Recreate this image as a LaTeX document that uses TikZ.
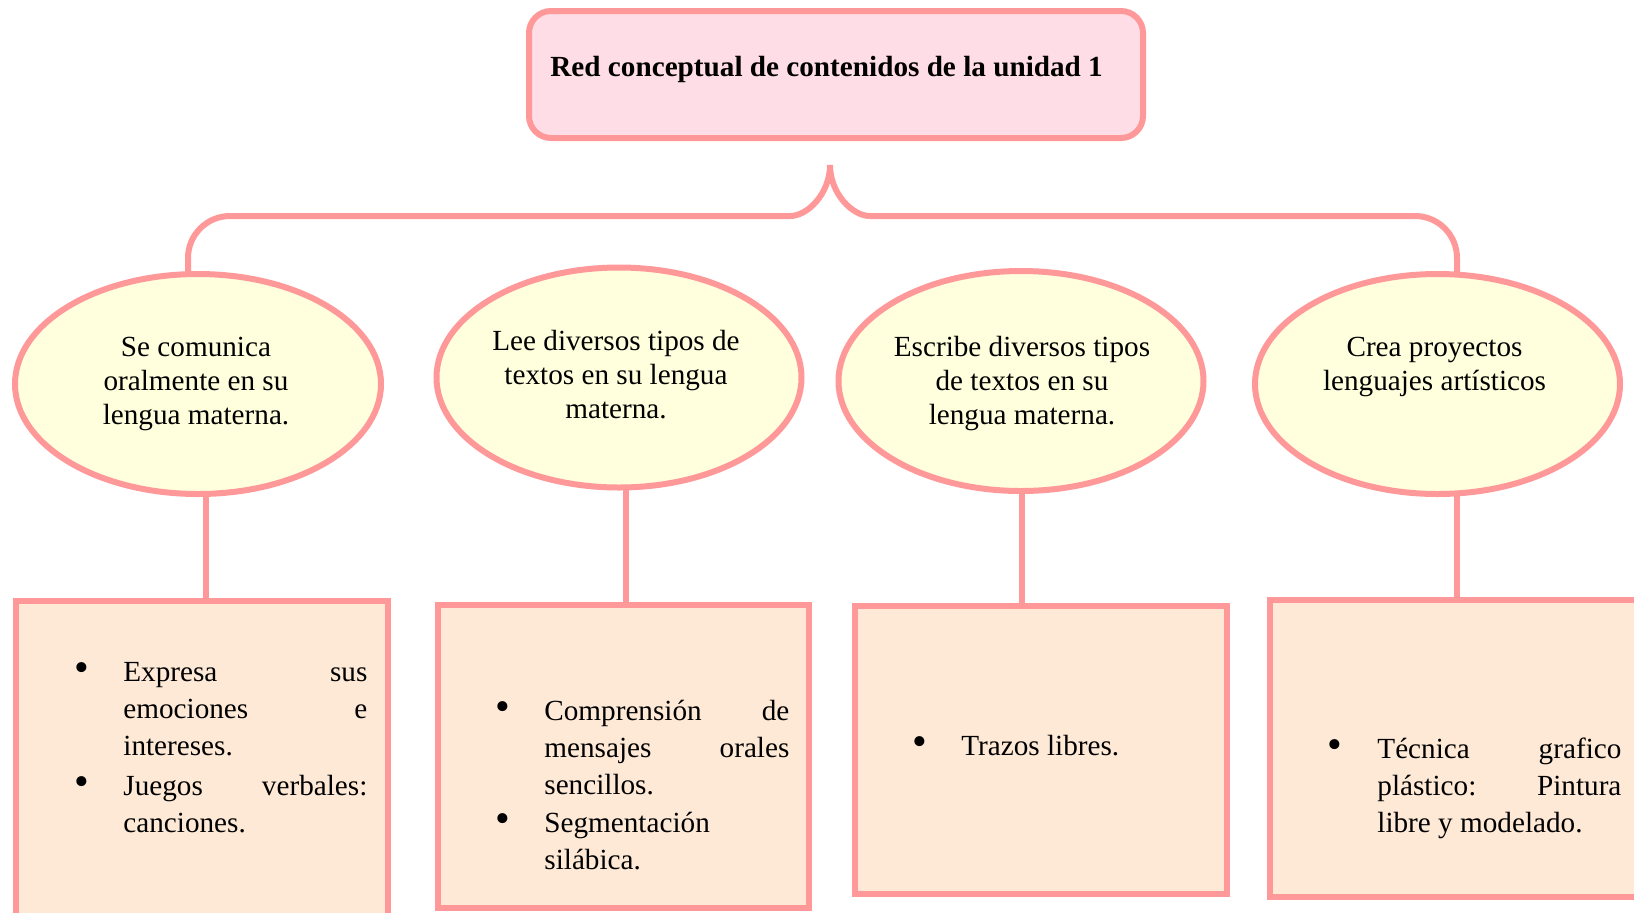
\documentclass[tikz,border=0pt]{standalone}
\usepackage{fontspec}
\setmainfont{Liberation Serif}
\usetikzlibrary{calc,shapes.geometric}
\definecolor{pk}{HTML}{FF9999}
\definecolor{titlefill}{HTML}{FFDDE6}
\definecolor{ellfill}{HTML}{FFFFDD}
\definecolor{boxfill}{HTML}{FDE9D6}
\begin{document}
\begin{tikzpicture}[x=0.5pt,y=-0.5pt,
  shapeline/.style={draw=pk, line width=3pt, outer sep=0pt},
  titlebox/.style={shapeline, fill=titlefill, rounded corners=11pt, inner sep=0pt},
  ell/.style={shapeline, fill=ellfill, ellipse, inner sep=0pt},
  cbox/.style={shapeline, fill=boxfill, inner sep=0pt},
  conn/.style={draw=pk, line width=3pt},
  etext/.style={anchor=base, inner sep=0pt, font=\fontsize{14.6}{17}\selectfont},
  itext/.style={anchor=base west, inner sep=0pt, font=\fontsize{14.6}{18.5}\selectfont},
  bultext/.style={anchor=base, inner sep=0pt, font=\fontsize{21}{21}\selectfont},
]
\useasboundingbox (0,0) rectangle (1634,912);
\clip (0,0) rectangle (1634,912);

% title
\node[titlebox, minimum width=307pt, minimum height=63.5pt] (title) at (836,74.5) {};
\node[anchor=base west, inner sep=0pt, font=\fontsize{14.6}{17}\selectfont\bfseries] (ttl) at (550,76) {Red conceptual de contenidos de la unidad 1};

% ellipses
\node[ell, minimum width=183pt, minimum height=110pt] (e1) at (198,384) {};
\node[ell, minimum width=182.5pt, minimum height=110pt] (e2) at (619,377.5) {};
\node[ell, minimum width=182.5pt, minimum height=110pt] (e3) at (1021,381) {};
\node[ell, minimum width=182.5pt, minimum height=110pt] (e4) at (1437.5,384) {};

% boxes
\node[cbox, minimum width=185.75pt, minimum height=175pt] (b1) at (202,776) {};
\node[cbox, minimum width=185.5pt, minimum height=151.5pt] (b2) at (623.5,756.5) {};
\node[cbox, minimum width=186pt, minimum height=144pt] (b3) at (1041,749.5) {};
\node[cbox, minimum width=205pt, minimum height=148.5pt] (b4) at (1474.5,748.5) {};

% connector x positions
\coordinate (c0) at (188,0);
\coordinate (c1) at (206,0);
\coordinate (c2) at (626,0);
\coordinate (c3) at (1022,0);
\coordinate (c4) at (1457,0);
\coordinate (tip) at (830,165);

% brace
\draw[conn] (tip) .. controls (830,193) and (808,216) .. (790,216)
  [rounded corners=21pt] -- (c0 |- 0,216) -- (e1.north -| c0);
\draw[conn] (tip) .. controls (830,193) and (852,216) .. (870,216)
  [rounded corners=21pt] -- (c4 |- 0,216) -- (e4.north -| c4);

% ellipse to box
\draw[conn] (e1.south -| c1) -- (b1.north -| c1);
\draw[conn] (e2.south -| c2) -- (b2.north -| c2);
\draw[conn] (e3.south -| c3) -- (b3.north -| c3);
\draw[conn] (e4.south -| c4) -- (b4.north -| c4);

% ellipse texts
\node[etext] (e1t) at (196,356) {\parbox[t]{180pt}{\centering Se comunica\\oralmente en su\\lengua materna.}};
\node[etext] (e2t) at (616,350) {\parbox[t]{180pt}{\centering Lee diversos tipos de\\textos en su lengua\\materna.}};
\node[etext] (e3t) at (1022,356) {\parbox[t]{180pt}{\centering Escribe diversos tipos\\de textos en su\\lengua materna.}};
\node[etext] (e4t) at (1434.5,356) {\parbox[t]{180pt}{\centering Crea proyectos\\lenguajes artísticos}};

% box 1
\node[bultext] (k1a) at (82,681) {•};
\node[itext] (t1a) at (123,681) {\parbox[t]{122pt}{Expresa\hfill sus\\emociones\hfill e\\intereses.}};
\node[bultext] (k1b) at (82,795) {•};
\node[itext] (t1b) at (123,795) {\parbox[t]{122pt}{Juegos\hfill verbales:\\canciones.}};

% box 2
\node[bultext] (k2a) at (503,720) {•};
\node[itext] (t2a) at (544,720) {\parbox[t]{122.5pt}{Comprensión\hfill de\\mensajes\hfill orales\\sencillos.}};
\node[bultext] (k2b) at (503,832) {•};
\node[itext] (t2b) at (544,832) {\parbox[t]{122.5pt}{Segmentación\\silábica.}};

% box 3
\node[bultext] (k3a) at (920,755) {•};
\node[itext] (t3a) at (961,755) {Trazos libres.};

% box 4
\node[bultext] (k4a) at (1335,758) {•};
\node[itext] (t4a) at (1377,758) {\parbox[t]{122pt}{Técnica\hfill grafico\\plástico:\hfill Pintura\\libre y modelado.}};
\end{tikzpicture}
\end{document}
